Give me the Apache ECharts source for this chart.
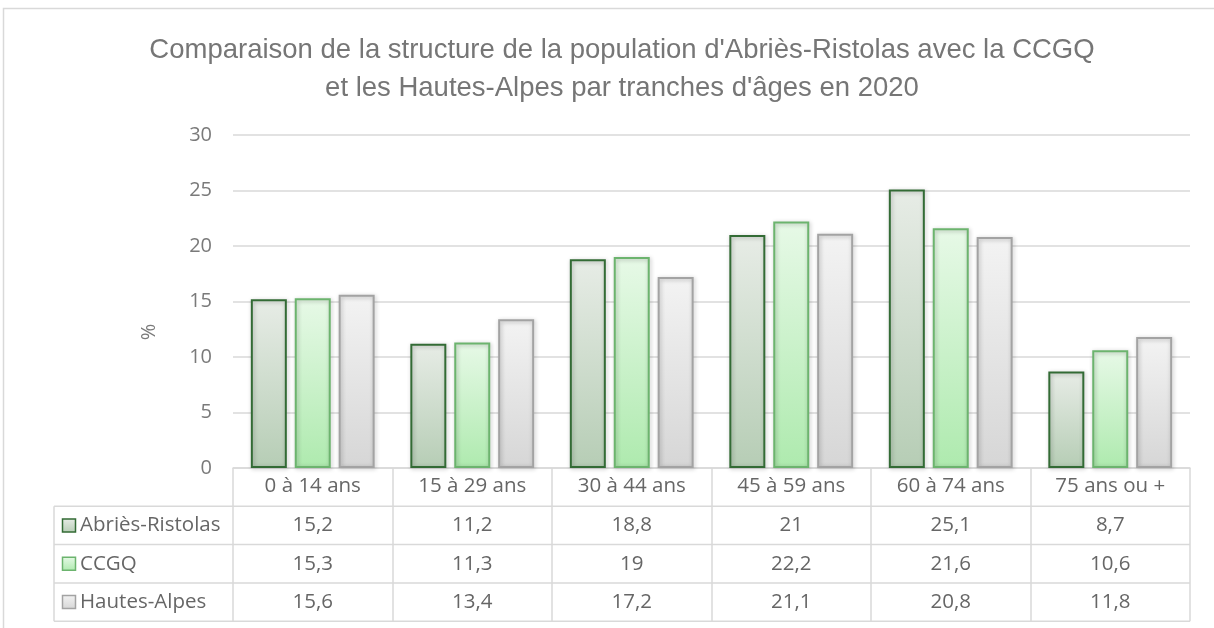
<!DOCTYPE html>
<html>
<head>
<meta charset="utf-8">
<title>Structure de la population par tranches d'âges</title>
<script src="https://cdn.jsdelivr.net/npm/echarts@6/dist/echarts.min.js"></script>
<style>
  html, body { margin: 0; padding: 0; background: #fff; }
  #chart { width: 1214px; height: 628px; }
</style>
</head>
<body>
<div id="chart"></div>
<script>
const categories = ['0 à 14 ans', '15 à 29 ans', '30 à 44 ans', '45 à 59 ans', '60 à 74 ans', '75 ans ou +']
const seriesNames = ['Abriès-Ristolas', 'CCGQ', 'Hautes-Alpes']
const abriesValues = [15.2, 11.2, 18.8, 21, 25.1, 8.7]
const ccgqValues = [15.3, 11.3, 19, 22.2, 21.6, 10.6]
const hautesAlpesValues = [15.6, 13.4, 17.2, 21.1, 20.8, 11.8]
const yTicks = [0, 5, 10, 15, 20, 25, 30]

const tableFont = '"Open Sans", Lato, sans-serif'
const tableSize = 20.5
const lineColor = '#d9d9d9'
const textColor = '#666666'

const styles = [
  { top: '#e7ece6', bottom: '#b6cdb5', border: '#336b35' },
  { top: '#e7f9e7', bottom: '#aeeaae', border: '#6cb46e' },
  { top: '#f3f3f3', bottom: '#d6d6d6', border: '#a3a3a3' }
]

function gradient(s) {
  return new echarts.graphic.LinearGradient(0, 0, 0, 1, [
    { offset: 0, color: s.top },
    { offset: 1, color: s.bottom }
  ])
}

const chart = echarts.init(document.getElementById('chart'))

const gridLeft = 233
const gridRight = 24
const gridTop = 135
const gridBottom = 160
const rowH = 38.3

function makeSeries(name, data, i) {
  return {
    name: name,
    type: 'bar',
    data: data,
    barWidth: 36,
    barGap: '22%',
    itemStyle: {
      color: gradient(styles[i]),
      borderColor: styles[i].border,
      borderWidth: 2,
      shadowColor: 'rgba(0, 0, 0, 0.28)',
      shadowBlur: 4,
      shadowOffsetX: 1,
      shadowOffsetY: 1
    }
  }
}

const option = {
  animation: false,
  title: {
    text: "Comparaison de la structure de la population d'Abriès-Ristolas avec la CCGQ\net les Hautes-Alpes par tranches d'âges en 2020",
    left: 617,
    textAlign: 'center',
    top: 26,
    textStyle: {
      fontFamily: '"Liberation Sans", Arial, sans-serif',
      fontSize: 27.5,
      fontWeight: 'normal',
      color: '#767676',
      lineHeight: 38
    }
  },
  grid: { left: gridLeft, right: gridRight, top: gridTop, bottom: gridBottom },
  xAxis: {
    type: 'category',
    data: categories,
    axisLine: { lineStyle: { color: lineColor, width: 1.5 } },
    axisTick: { show: true, length: rowH * 4, lineStyle: { color: lineColor, width: 1.5 } },
    axisLabel: { fontFamily: tableFont, fontSize: tableSize, color: textColor, margin: 8 }
  },
  yAxis: {
    type: 'value',
    min: yTicks[0],
    max: yTicks[yTicks.length - 1],
    interval: 5,
    axisLine: { show: false },
    axisTick: { show: false },
    axisLabel: { fontFamily: tableFont, fontSize: 20, color: '#7a7a7a', margin: 21 },
    splitLine: { lineStyle: { color: lineColor, width: 1.5 } }
  },
  series: [
    makeSeries(seriesNames[0], abriesValues, 0),
    makeSeries(seriesNames[1], ccgqValues, 1),
    makeSeries(seriesNames[2], hautesAlpesValues, 2)
  ]
}

chart.setOption(option)

// data table under the axis, built from the same arrays
const rows = [abriesValues, ccgqValues, hautesAlpesValues]
const axisY = chart.convertToPixel({ yAxisIndex: 0 }, 0)
const tableLeft = 54
const tableRight = 1214 - gridRight
const elements = []

elements.push({
  type: 'rect',
  shape: { x: 3.5, y: 8.5, width: 1240, height: 660 },
  style: { fill: 'none', stroke: lineColor, lineWidth: 1.5 },
  z: -1
})

elements.push({
  type: 'text',
  x: 149,
  y: 332,
  rotation: Math.PI / 2,
  style: {
    text: '%',
    fontFamily: tableFont,
    fontSize: 20,
    fill: '#7a7a7a',
    align: 'center',
    verticalAlign: 'middle'
  }
})

for (let r = 0; r <= rows.length; r++) {
  const y = axisY + rowH * (r + 1)
  elements.push({
    type: 'line',
    shape: { x1: tableLeft, y1: y, x2: tableRight, y2: y },
    style: { stroke: lineColor, lineWidth: 1.5 }
  })
}
elements.push({
  type: 'line',
  shape: { x1: tableLeft, y1: axisY + rowH, x2: tableLeft, y2: axisY + rowH * 4 },
  style: { stroke: lineColor, lineWidth: 1.5 }
})

rows.forEach((vals, r) => {
  const cy = axisY + rowH * (r + 1.5)
  elements.push({
    type: 'rect',
    shape: { x: 62.5, y: cy - 6.5, width: 13, height: 13 },
    style: { fill: gradient(styles[r]), stroke: styles[r].border, lineWidth: 1.5 }
  })
  elements.push({
    type: 'text',
    x: 80,
    y: cy,
    style: {
      text: seriesNames[r],
      fontFamily: tableFont,
      fontSize: tableSize,
      fill: textColor,
      align: 'left',
      verticalAlign: 'middle'
    }
  })
  vals.forEach((v, c) => {
    const cx = chart.convertToPixel({ xAxisIndex: 0 }, categories[c])
    elements.push({
      type: 'text',
      x: cx,
      y: cy,
      style: {
        text: String(v).replace('.', ','),
        fontFamily: tableFont,
        fontSize: tableSize,
        fill: textColor,
        align: 'center',
        verticalAlign: 'middle'
      }
    })
  })
})

chart.setOption({ graphic: elements })
</script>
</body>
</html>
